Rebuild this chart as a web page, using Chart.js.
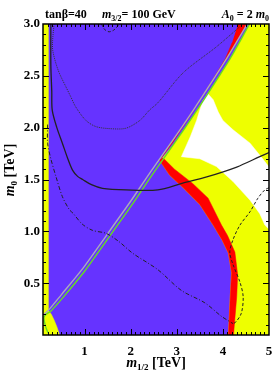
<!DOCTYPE html>
<html>
<head>
<meta charset="utf-8">
<script src="https://cdn.jsdelivr.net/npm/chart.js@4.4.0/dist/chart.umd.min.js"></script>
<style>
  html, body { margin: 0; padding: 0; background: #fff; }
  #grafico { display: block; }
</style>
</head>
<body>
<canvas id="grafico" width="273" height="376"></canvas>
<script>
// eixos (TeV)
const faixaX = [0.1, 5];
const faixaY = [0, 3];
const ticksX = [1, 2, 3, 4, 5];
const ticksY = [0.5, 1.0, 1.5, 2.0, 2.5, 3.0];

// regioes (m1/2, m0) em TeV
const amareloEsq = [[0.1, 0], [0.1, 3], [0.21, 3], [0.21, 0.24], [0.28, 0.2], [0.34, 0.145], [0.4, 0.08], [0.46, 0]];
const amareloDir = [[4.58, 3.0], [4.15, 2.66], [3.85, 2.45], [3.41, 2.15], [2.95, 1.85], [2.64, 1.68],
  [2.85, 1.54], [3.14, 1.42], [3.5, 1.26], [3.79, 1.06], [3.98, 0.92], [4.12, 0.79], [4.19, 0.6],
  [4.16, 0.37], [4.12, 0], [5, 0], [5, 3]];
const brancoReg = [[3.67, 2.33], [3.79, 2.27], [3.9, 2.15], [4.0, 2.07], [4.22, 1.98], [4.59, 1.85],
  [4.88, 1.69], [5.0, 1.62], [5.0, 1.02], [4.91, 1.06], [4.8, 1.17], [4.59, 1.3], [4.22, 1.48],
  [3.86, 1.625], [3.5, 1.7], [3.1, 1.72], [3.3, 1.92], [3.43, 2.07], [3.5, 2.17], [3.58, 2.27]];
const vermelhoTopo = [[4.33, 3.0], [4.53, 3.0], [4.1, 2.68], [3.8, 2.47], [3.36, 2.17], [2.9, 1.87],
  [2.65, 1.7], [2.9, 1.85], [3.34, 2.15], [3.75, 2.44], [4.05, 2.66], [4.2, 2.82]];
const vermelhoBanda = [[2.62, 1.69], [2.85, 1.54], [3.14, 1.42], [3.5, 1.26], [3.79, 1.06], [3.98, 0.92],
  [4.12, 0.79], [4.19, 0.6], [4.16, 0.37], [4.12, 0], [4.23, 0], [4.3, 0.37], [4.32, 0.58],
  [4.26, 0.8], [4.1, 0.96], [3.97, 1.06], [3.68, 1.32], [3.35, 1.46], [2.95, 1.6], [2.7, 1.71]];

// contornos
const linhaCinza = [[0.1, 0.19], [0.23, 0.245], [0.5, 0.39], [0.96, 0.64], [1.3, 0.85], [1.57, 1.02],
  [2.0, 1.29], [2.41, 1.56], [2.9, 1.87], [3.36, 2.17], [3.8, 2.47], [4.1, 2.68], [4.53, 3.0]];
const linhaVerde = [[0.21, 0.02], [0.15, 0.09], [0.12, 0.17], [0.17, 0.2], [0.28, 0.235], [0.55, 0.37],
  [1.01, 0.62], [1.35, 0.83], [1.62, 1.0], [2.05, 1.27], [2.46, 1.54], [2.95, 1.85], [3.41, 2.15],
  [3.85, 2.45], [4.15, 2.66], [4.58, 3.0]];
const linhaSolida = [[0.27, 3.0], [0.27, 2.6], [0.29, 2.35], [0.3, 2.17], [0.4, 2.0], [0.52, 1.85],
  [0.63, 1.71], [0.74, 1.59], [0.85, 1.53], [0.96, 1.5], [1.15, 1.45], [1.39, 1.415], [1.9, 1.4],
  [2.59, 1.4], [3.13, 1.465], [3.65, 1.525], [4.3, 1.62], [4.8, 1.72], [5.0, 1.76]];
const linhaFina = [[0.34, 3.0], [0.31, 2.85], [0.31, 2.75], [0.38, 2.62], [0.46, 2.52], [0.59, 2.4],
  [0.7, 2.3], [0.81, 2.2], [1.03, 2.07], [1.25, 2.01], [1.57, 1.99], [1.9, 1.995], [2.2, 2.07],
  [2.41, 2.17], [2.59, 2.24], [3.14, 2.53], [3.86, 2.78], [4.37, 2.975], [4.43, 3.0]];
const linhaTracoPonto = [[0.2, 2.03], [0.2, 1.85], [0.27, 1.7], [0.38, 1.53], [0.52, 1.335], [0.67, 1.21],
  [0.75, 1.175], [0.95, 1.07], [1.17, 1.01], [1.47, 0.98], [1.75, 0.9], [2.04, 0.79], [2.59, 0.63],
  [3.1, 0.43], [3.61, 0.31], [3.97, 0.18], [4.22, 0.11]];
const linhaTracejada = [[5.0, 1.42], [4.91, 1.4], [4.76, 1.32], [4.59, 1.19], [4.37, 1.06], [4.22, 0.92],
  [4.15, 0.8], [4.22, 0.68], [4.37, 0.51], [4.44, 0.37], [4.4, 0.21], [4.28, 0.125], [4.2, 0.106]];
const arcoTopo = [[1.37, 3.0], [1.43, 2.95], [1.53, 2.925], [1.63, 2.94], [1.72, 2.98], [1.74, 3.0]];

const AZUL = "#6633ff";
const AMARELO = "#eeff00";
const FONTE = '"Liberation Serif", "DejaVu Serif", serif';

function pontos(lista) {
  return lista.map(p => ({ x: p[0], y: p[1] }));
}

function regiao(lista, cor, ordem) {
  return {
    data: pontos(lista), fill: "shape", backgroundColor: cor, borderColor: cor,
    borderWidth: 0.5, pointRadius: 0, tension: 0, order: ordem
  };
}

function contorno(lista, cor, largura, traco, ordem) {
  return {
    data: pontos(lista), fill: false, borderColor: cor, borderWidth: largura,
    borderDash: traco, pointRadius: 0, tension: 0.3, order: ordem
  };
}

function textoMisto(ctx, partes, x, y, alinhamento) {
  let largura = 0;
  partes.forEach(p => { ctx.font = p[1]; largura += ctx.measureText(p[0]).width; });
  let cx = alinhamento === "center" ? x - largura / 2 : alinhamento === "right" ? x - largura : x;
  partes.forEach(p => {
    ctx.font = p[1];
    ctx.fillText(p[0], cx, y + (p[2] || 0));
    cx += ctx.measureText(p[0]).width;
  });
}

const fundoPlugin = {
  id: "fundo",
  beforeDatasetsDraw(chart) {
    const { ctx, chartArea: a } = chart;
    ctx.save();
    ctx.fillStyle = AZUL;
    ctx.fillRect(a.left, a.top, a.right - a.left, a.bottom - a.top);
    ctx.restore();
  }
};

const molduraPlugin = {
  id: "moldura",
  afterDatasetsDraw(chart) {
    const { ctx, chartArea: a, scales } = chart;
    ctx.save();
    ctx.strokeStyle = "#000";
    ctx.lineWidth = 1;
    ctx.beginPath();
    for (let i = 2; i < 50; i++) {
      const px = Math.round(scales.x.getPixelForValue(i / 10)) + 0.5;
      const len = i % 10 === 0 ? 6 : 3;
      ctx.moveTo(px, a.bottom); ctx.lineTo(px, a.bottom - len);
      ctx.moveTo(px, a.top); ctx.lineTo(px, a.top + len);
    }
    for (let i = 1; i < 30; i++) {
      const py = Math.round(scales.y.getPixelForValue(i / 10)) + 0.5;
      const len = i % 5 === 0 ? 6 : 3;
      ctx.moveTo(a.left, py); ctx.lineTo(a.left + len, py);
      ctx.moveTo(a.right, py); ctx.lineTo(a.right - len, py);
    }
    ctx.stroke();
    ctx.lineWidth = 1.5;
    ctx.strokeRect(a.left, a.top, a.right - a.left, a.bottom - a.top);
    ctx.restore();
  },
  afterDraw(chart) {
    const { ctx, chartArea: a } = chart;
    ctx.save();
    ctx.fillStyle = "#000";
    ctx.textBaseline = "alphabetic";
    const b12 = "bold 12px " + FONTE, i12 = "italic bold 12px " + FONTE, b8 = "bold 8px " + FONTE;
    textoMisto(ctx, [["tanβ=40", b12]], 45, 18, "left");
    textoMisto(ctx, [["m", i12], ["3/2", b8, 3], ["= 100 GeV", b12]], 102, 18, "left");
    textoMisto(ctx, [["A", i12], ["0", b8, 3], [" = 2 ", b12], ["m", i12], ["0", b8, 3]], a.right, 18, "right");

    const b14 = "bold 14px " + FONTE, i14 = "italic bold 14px " + FONTE, b9 = "bold 9px " + FONTE;
    textoMisto(ctx, [["m", i14], ["1/2", b9, 3], [" [TeV]", b14]], (a.left + a.right) / 2, 367, "center");

    ctx.translate(14, 170);
    ctx.rotate(-Math.PI / 2);
    textoMisto(ctx, [["m", i14], ["0", b9, 3], [" [TeV]", b14]], 0, 0, "center");
    ctx.restore();
  }
};

new Chart(document.getElementById("grafico"), {
  type: "line",
  data: {
    datasets: [
      contorno(arcoTopo, "#222", 1, [3, 2], 1),
      contorno(linhaTracejada, "#222", 1, [3, 2], 1),
      contorno(linhaTracoPonto, "#222", 1, [4, 2, 1, 2], 1),
      contorno(linhaFina, "#333", 1, [1, 1], 1),
      contorno(linhaSolida, "#222", 1.3, [], 1),
      contorno(linhaVerde, "#66dd22", 1.4, [], 2),
      contorno(linhaCinza, "#aaaabb", 1.4, [], 2),
      regiao(vermelhoTopo, "#ff0000", 5),
      regiao(vermelhoBanda, "#ff0000", 5),
      regiao(brancoReg, "#ffffff", 6),
      regiao(amareloDir, AMARELO, 7),
      regiao(amareloEsq, AMARELO, 7)
    ]
  },
  options: {
    responsive: false,
    animation: false,
    devicePixelRatio: 1,
    layout: { padding: { left: 0, top: 24, right: 4, bottom: 0 } },
    plugins: { legend: { display: false }, tooltip: { enabled: false } },
    scales: {
      x: {
        type: "linear", min: faixaX[0], max: faixaX[1],
        grid: { display: false, drawTicks: false },
        border: { display: false },
        afterBuildTicks: s => { s.ticks = ticksX.map(v => ({ value: v })); },
        afterFit: s => { s.height = 41; s.paddingLeft = 0; s.paddingRight = 0; },
        ticks: { color: "#000", padding: 9, maxRotation: 0, font: { family: FONTE, size: 13, weight: "bold" },
          callback: v => String(v) }
      },
      y: {
        type: "linear", min: faixaY[0], max: faixaY[1],
        grid: { display: false, drawTicks: false },
        border: { display: false },
        afterBuildTicks: s => { s.ticks = ticksY.map(v => ({ value: v })); },
        afterFit: s => { s.width = 43; s.paddingTop = 0; s.paddingBottom = 0; },
        ticks: { color: "#000", padding: 3, font: { family: FONTE, size: 13, weight: "bold" },
          callback: v => Number(v).toFixed(1) }
      }
    }
  },
  plugins: [fundoPlugin, molduraPlugin]
});
</script>
</body>
</html>
